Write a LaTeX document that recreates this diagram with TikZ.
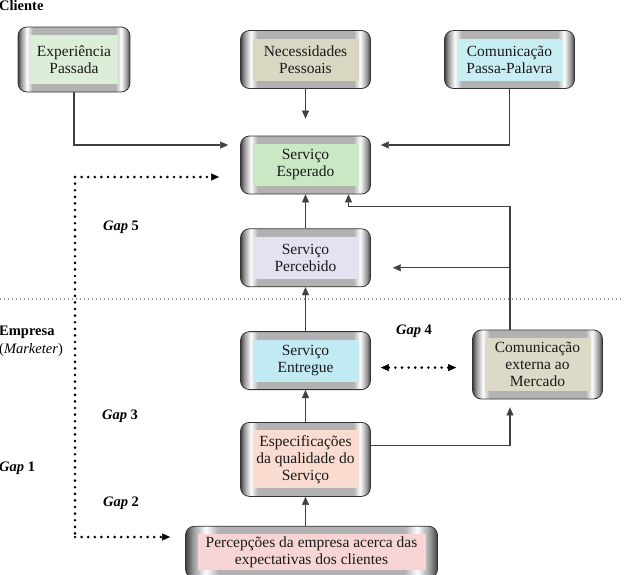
\documentclass[tikz,border=0pt]{standalone}
\usepackage{fontspec}
\setmainfont{Liberation Serif}
\usetikzlibrary{arrows.meta, positioning}

\definecolor{expcol}{HTML}{DDEED8}
\definecolor{necol}{HTML}{D9D6C2}
\definecolor{passacol}{HTML}{C8EEF4}
\definecolor{espcol}{HTML}{CBE8C4}
\definecolor{percol}{HTML}{E4E1F0}
\definecolor{entcol}{HTML}{C2EAF3}
\definecolor{extcol}{HTML}{DCDAC6}
\definecolor{specol}{HTML}{FADBCF}
\definecolor{pcpcol}{HTML}{F8D5D5}

% metallic frame of the boxes
\pgfdeclarehorizontalshading{bevel}{100bp}{color(0bp)=(black!75); color(25bp)=(black!75);
  color(26.5bp)=(gray!80); color(29bp)=(white); color(31.5bp)=(gray!60); color(68.5bp)=(gray!60);
  color(71bp)=(white); color(73.5bp)=(gray!80); color(75bp)=(black!75); color(100bp)=(black!75)}

\begin{document}
\begin{tikzpicture}[
            x=1pt, y=-1pt,
            box/.style={draw=black!80, line width=0.8pt, rounded corners=9pt, shading=bevel,
                align=center, text=black!90, inner sep=0pt,
                font=\fontsize{15.5}{17}\selectfont, minimum width=130pt, minimum height=58pt,
                path picture={\fill[#1, sharp corners] ([xshift=12pt,yshift=-8pt]path picture bounding box.north west)
                    rectangle ([xshift=-12pt,yshift=8pt]path picture bounding box.south east);}},
            arrow/.style={-{Triangle[length=8pt,width=7pt,line width=0.4pt]}, line width=1.2pt, draw=black!75},
            gaparrow/.style={-{Triangle[length=8pt,width=7pt,line width=0.4pt]}, line width=2.9pt,
                dash pattern=on 0pt off 6.6pt, line cap=round, draw=black},
            sepline/.style={line width=1.1pt, dash pattern=on 1.1pt off 2.9pt, draw=gray!80},
            gaplabel/.style={font=\fontsize{14.5}{18}\selectfont\bfseries}
        ]
        \useasboundingbox[fill=white] (0,0) rectangle (624,574);

        % Nodes
        \node[box=expcol, minimum width=112pt, minimum height=65pt] (experiencia) at (74,59.5) {Experiência\\Passada};
        \node[box=necol] (necessidades) at (305.5,59.5) {Necessidades\\Pessoais};
        \node[box=passacol] (passa) at (509.5,59.5) {Comunicação\\Passa-Palavra};
        \node[box=espcol] (esperado) at (305.5,165) {Serviço\\Esperado};
        \node[box=percol, below=34pt of esperado] (percebido) {Serviço\\Percebido};
        \node[box=entcol, below=44pt of percebido] (entregue) {Serviço\\Entregue};
        \node[box=specol, minimum height=74pt, below=32pt of entregue] (especificacoes) {Especificações\\da qualidade do\\Serviço};
        \node[box=pcpcol, minimum width=252pt, minimum height=52pt, below=29pt of especificacoes, xshift=6pt] (percepcoes) {Percepções da empresa acerca das\\expectativas dos clientes};
        \node[box=extcol, minimum height=69pt] (externa) at (537.5,364.5) {Comunicação\\externa ao\\Mercado};

        % Labels
        \node[gaplabel, anchor=base west, inner sep=0pt] (cliente) at (-1,10) {Cliente};
        \node[gaplabel, anchor=base west, inner sep=0pt, align=left] (empresa) at (-1,353) {Empresa\\\mdseries(\textit{Marketer})};
        \node[gaplabel] (gap5) at (121,227) {\textit{Gap} 5};
        \node[gaplabel] (gap4) at (414,331) {\textit{Gap} 4};
        \node[gaplabel] (gap3) at (120,416) {\textit{Gap} 3};
        \node[gaplabel, anchor=west, inner sep=0pt] (gap1) at (-1,468) {\textit{Gap} 1};
        \node[gaplabel] (gap2) at (121,503) {\textit{Gap} 2};

        % Cliente / Empresa line
        \draw[sepline] (0,299) -- (624,299);

        % Arrows
        \draw[arrow, shorten >=12pt] (experiencia.south) |- ([yshift=20pt]esperado.west);
        \draw[arrow, shorten >=17pt] (necessidades) -- (esperado);
        \draw[arrow, shorten >=10pt] (passa.south) |- ([yshift=20pt]esperado.east);
        \draw[arrow] (percebido) -- (esperado);
        \draw[arrow] (entregue) -- (percebido);
        \draw[arrow] (especificacoes) -- (entregue);
        \draw[arrow] (percepcoes.north -| especificacoes.south) -- (especificacoes);

        \coordinate (ext-up) at ([xshift=-27.5pt]externa.north);
        \coordinate (per-in) at ([yshift=-10pt]percebido.east);
        \coordinate (spec-out) at ([yshift=14pt]especificacoes.east);
        \draw[arrow] (ext-up) |- ([xshift=43pt,yshift=-12pt]esperado.south) -- ([xshift=43pt]esperado.south);
        \draw[arrow, shorten >=22pt] (ext-up |- per-in) -- (per-in);
        \draw[arrow, shorten >=8pt] (spec-out) -| (ext-up |- externa.south);

        % Gaps
        \coordinate (gap-top) at (75,177);
        \coordinate (gap-bot) at (75,537);
        \draw[gaparrow, -] (gap-top) -- (gap-bot);
        \draw[gaparrow, shorten >=21pt] (gap-top) -- (gap-top -| esperado.west);
        \draw[gaparrow, shorten >=15pt] (gap-bot) -- (gap-bot -| percepcoes.west);
        \draw[gaparrow, {Triangle[length=8pt,width=7pt,line width=0.4pt]}-{Triangle[length=8pt,width=7pt,line width=0.4pt]},
            shorten <=10pt, shorten >=16pt] ([yshift=-7pt]entregue.east) -- ([yshift=-7pt]entregue.east -| externa.west);

    \end{tikzpicture}
\end{document}
